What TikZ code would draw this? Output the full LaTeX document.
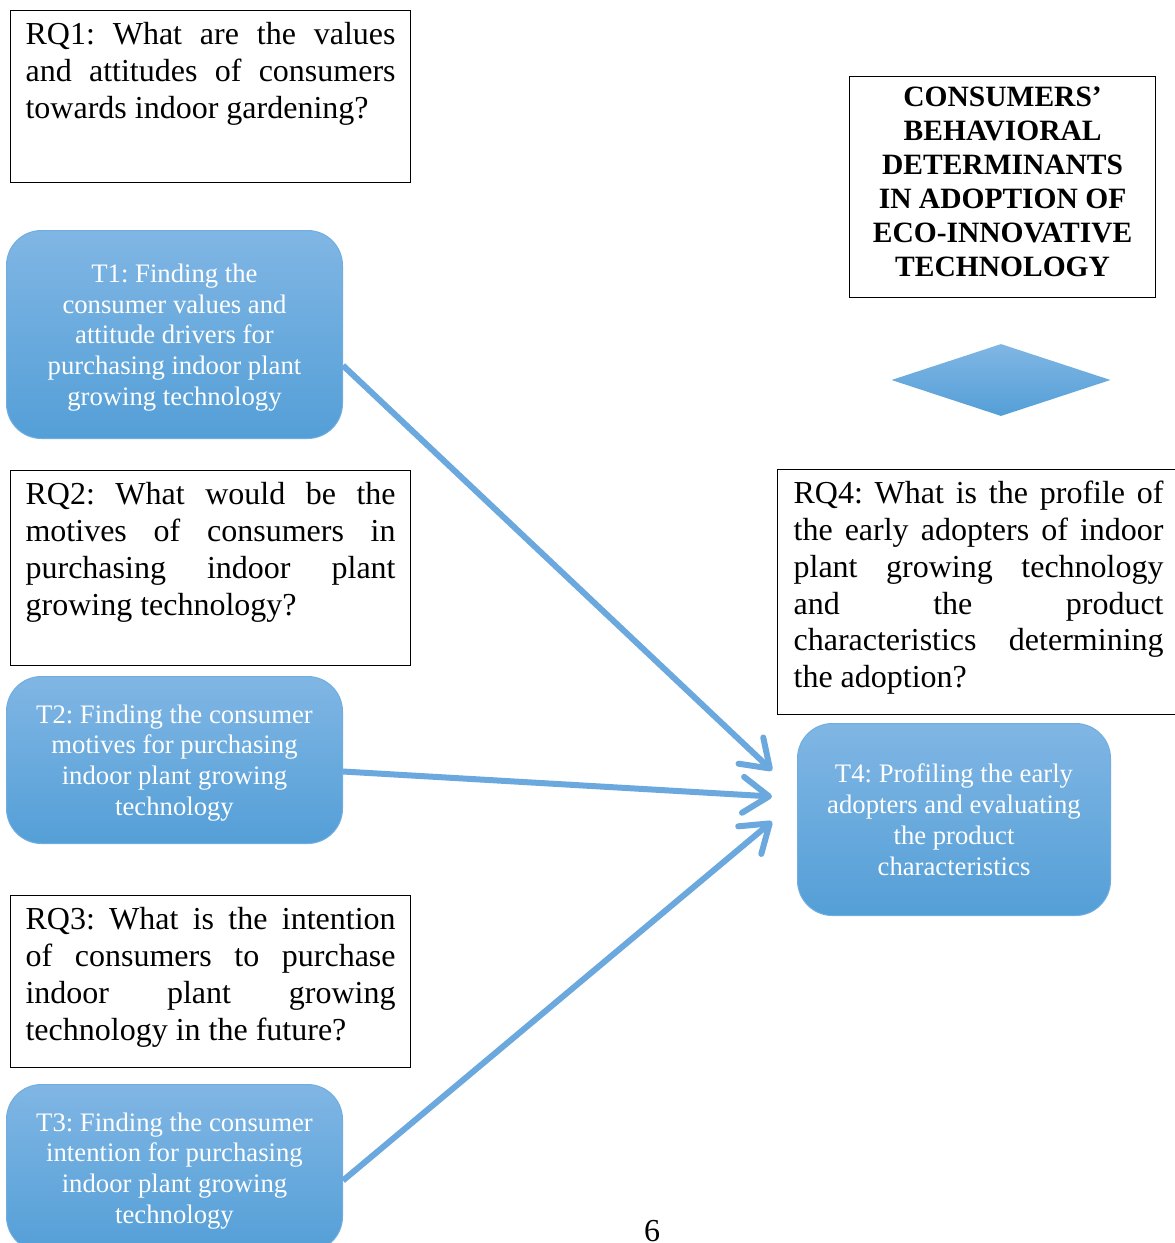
\documentclass[tikz,border=0pt]{standalone}
\usepackage{fontspec}
\setmainfont{Liberation Serif}
\usepackage{tikz}
\usetikzlibrary{shapes,arrows.meta,positioning}
\frenchspacing
\definecolor{tasktop}{RGB}{128, 182, 228}
\definecolor{taskbot}{RGB}{84, 159, 215}
\definecolor{taskedge}{RGB}{112, 174, 226}
\definecolor{flowblue}{RGB}{106, 168, 222}
\tikzstyle{rq} = [draw=black, line width=1.2pt, anchor=north west, text width=370pt, align=justify, inner xsep=15pt, inner ysep=12pt, text height=22pt, font=\fontsize{32}{36.8}\selectfont]
\tikzstyle{task} = [draw=taskedge, line width=1pt, rounded corners=35pt, top color=tasktop, bottom color=taskbot, text=white, align=center, anchor=north west, inner sep=0pt, text depth=0pt, font=\fontsize{26.7}{30.75}\selectfont]
\tikzstyle{header} = [draw=black, line width=1.2pt, align=center, anchor=north west, minimum width=306pt, inner sep=0pt, text height=199.5pt, text depth=21.5pt, font=\bfseries\fontsize{29.5}{34}\selectfont]
\tikzstyle{pointer} = [diamond, draw=none, top color=tasktop, bottom color=taskbot, minimum width=219pt, minimum height=72pt, inner sep=0pt]
\tikzstyle{flow} = [draw=flowblue, line width=6pt, -{Straight Barb[length=26pt, width=36pt, round]}]
\begin{document}
\begin{tikzpicture}[x=1pt, y=-1pt]
\useasboundingbox (0,0) rectangle (1175,1243);

% questions =============================
\node[rq, text depth=126pt] (rq1) at (10,10) {RQ1: What are the values\linebreak and attitudes of consumers\linebreak towards indoor gardening?};
\node[rq, text depth=149pt] (rq2) at (10,470) {RQ2: What would be the\linebreak motives of consumers in\linebreak purchasing indoor plant\linebreak growing technology?};
\node[rq, text depth=126pt] (rq3) at (10,895) {RQ3: What is the intention\linebreak of consumers to purchase\linebreak indoor plant growing\linebreak technology in the future?};
\node[rq, text depth=199pt, inner xsep=16pt] (rq4) at (777,469) {RQ4: What is the profile of\linebreak the early adopters of indoor\linebreak plant growing technology\linebreak and the product\linebreak characteristics determining\linebreak the adoption?};

% tasks =============================
\node[task, minimum width=336pt, minimum height=208pt] (t1) at (6,230) {T1: Finding the\\consumer values and\\attitude drivers for\\purchasing indoor plant\\growing technology};
\node[task, minimum width=336pt, minimum height=167pt] (t2) at (6,676) {T2: Finding the consumer\\motives for purchasing\\indoor plant growing\\technology};
\node[task, minimum width=336pt, minimum height=167pt] (t3) at (6,1084) {T3: Finding the consumer\\intention for purchasing\\indoor plant growing\\technology};
\node[task, minimum width=313pt, minimum height=192pt] (t4) at (797,723) {T4: Profiling the early\\adopters and evaluating\\the product\\characteristics};

% title and pointer
\node[header] (title) at (849,76) {CONSUMERS’\\BEHAVIORAL\\DETERMINANTS\\IN ADOPTION OF\\ECO-INNOVATIVE\\TECHNOLOGY};
\node[pointer] (point) at (1001,380) {};

\node[anchor=base, inner sep=0pt, font=\fontsize{32}{36.8}\selectfont] (page) at (652,1241) {6};

% edges
\path[flow] ([yshift=-31pt]t1.east) -- ([xshift=-25pt, yshift=49pt]t4.west);
\path[flow] ([yshift=-11.5pt]t2.east) -- ([xshift=-25pt, yshift=23pt]t4.west);
\path[flow] ([yshift=-12.5pt]t3.east) -- ([xshift=-25pt, yshift=-2pt]t4.west);

\end{tikzpicture}
\end{document}
